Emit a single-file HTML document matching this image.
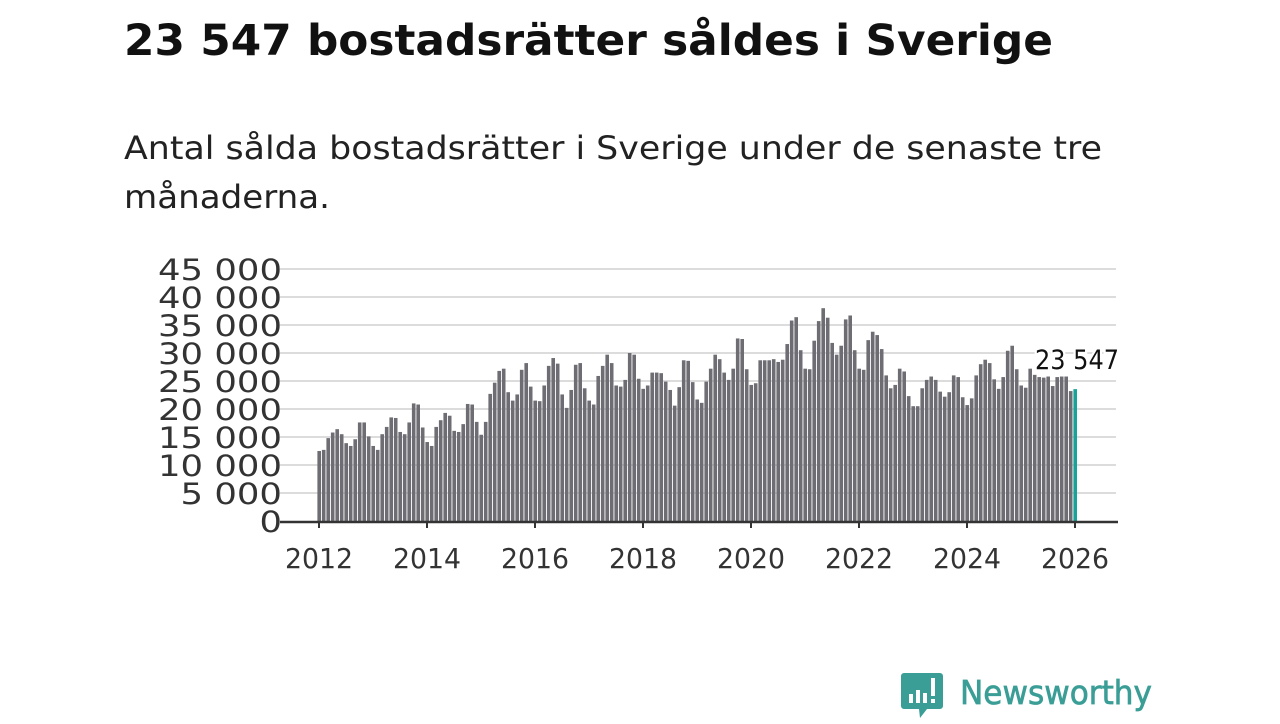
<!DOCTYPE html>
<html><head><meta charset="utf-8"><style>
body{margin:0;width:1280px;height:720px;background:#fff;overflow:hidden;font-family:"DejaVu Sans","Liberation Sans",sans-serif;}
</style></head><body>
<svg width="1280" height="720" xmlns="http://www.w3.org/2000/svg" font-family="DejaVu Sans, Liberation Sans, sans-serif">
<text x="124" y="55" font-size="43" font-weight="bold" fill="#111" textLength="929" lengthAdjust="spacingAndGlyphs">23 547 bostadsrätter såldes i Sverige</text>
<text x="124" y="159" font-size="32" fill="#222" textLength="978" lengthAdjust="spacingAndGlyphs">Antal sålda bostadsrätter i Sverige under de senaste tre</text>
<text x="124" y="208" font-size="32" fill="#222" textLength="206" lengthAdjust="spacingAndGlyphs">månaderna.</text>
<g id="grid"></g><g id="bars"></g><g id="axes"></g>
<g>
<path d="M904 673 h36 a3 3 0 0 1 3 3 v30 a3 3 0 0 1 -3 3 h-13 l-7 9 l-1 -9 h-15 a3 3 0 0 1 -3 -3 v-30 a3 3 0 0 1 3 -3z" fill="#3a9e96"/>
<rect x="909" y="694" width="4" height="9" fill="#fff"/><rect x="916" y="690" width="4" height="13" fill="#fff"/><rect x="923" y="693" width="4" height="10" fill="#fff"/><rect x="931" y="678" width="4" height="18" fill="#fff"/><rect x="931" y="699" width="4" height="4" fill="#fff"/>
<text x="960" y="704" font-size="33" fill="#3a9e96" stroke="#3a9e96" stroke-width="0.7" textLength="192" lengthAdjust="spacingAndGlyphs">Newsworthy</text>
</g>
</svg>
<script>
const yTicks=[0,5000,10000,15000,20000,25000,30000,35000,40000,45000];
const yTickLabels=["0","5 000","10 000","15 000","20 000","25 000","30 000","35 000","40 000","45 000"];
const xYears=[2012,2014,2016,2018,2020,2022,2024,2026];
const startYear=2012;
const values=[12.5,12.7,14.8,15.8,16.4,15.5,13.9,13.4,14.6,17.6,17.6,15.1,
13.4,12.7,15.5,16.8,18.5,18.4,15.9,15.5,17.6,21.0,20.8,16.7,
14.1,13.4,16.8,18.0,19.3,18.8,16.1,15.9,17.3,20.9,20.8,17.7,
15.4,17.7,22.7,24.7,26.8,27.2,23.0,21.5,22.6,27.0,28.2,
24.0,21.5,21.4,24.2,27.7,29.1,28.1,22.6,20.2,23.4,27.9,28.2,23.7,21.5,20.8,25.9,27.7,29.7,28.2,24.2,24.0,25.2,30.0,29.7,25.4,23.6,24.2,26.5,26.5,26.4,24.9,23.4,20.6,23.9,28.7,28.6,24.8,21.7,21.1,24.9,27.2,29.7,28.9,26.5,25.2,27.2,
32.6,32.5,27.1,24.3,24.6,28.7,28.7,28.7,28.9,28.4,28.8,31.6,35.8,36.4,30.5,27.2,27.1,32.2,35.7,38.0,36.3,31.8,29.7,31.3,36.0,36.7,30.5,27.2,27.0,32.3,33.8,33.2,30.7,26.0,23.7,24.3,27.2,26.7,22.3,20.5,20.5,
23.7,25.2,25.8,25.2,
23.1,22.2,23.0,26.0,25.7,22.1,20.7,21.9,26.0,28.0,28.8,28.2,25.3,23.6,25.7,30.4,31.3,27.1,24.2,23.8,27.2,26.1,25.7,25.6,25.8,24.1,25.7,25.8,25.8,23.2,23.547];
const NS='http://www.w3.org/2000/svg';
const x0=319,pxYear=54,y0=521,pxPerK=5.6;
const xs=m=>x0+m*pxYear/12, ys=v=>y0-v*pxPerK/1000;
function mk(t,a,p){const e=document.createElementNS(NS,t);for(const k in a)e.setAttribute(k,a[k]);p.appendChild(e);return e;}
function tw(s,d,sp){let w=0;for(const c of s)w+=(c===' '?sp:d);return w;}
const G=document.getElementById('grid'),B=document.getElementById('bars'),A=document.getElementById('axes');
yTicks.forEach((v,i)=>{
 if(v>0){const l=mk('line',{x1:280,x2:1116,y1:ys(v),y2:ys(v),stroke:'#dcdcdc','stroke-width':2},G);
 
 }
 const s=yTickLabels[i];
 const t=mk('text',{x:282,y:ys(v)+11,'text-anchor':'end','font-size':29,fill:'#333',textLength:tw(s,22.5,11.5),lengthAdjust:'spacingAndGlyphs'},A);t.textContent=s;
 
 
});
values.forEach((v,i)=>{
 const last=i===values.length-1;
 const r=mk('rect',{x:xs(i)-1.6,y:ys(v*1000),width:3.6,height:y0-ys(v*1000),fill:last?'#17a39a':'#6e6d73'},B);
 
 
});
const ax=mk('line',{x1:280,x2:1118,y1:y0+1,y2:y0+1,stroke:'#333','stroke-width':2.5},A);


xYears.forEach(yr=>{
 const x=xs((yr-startYear)*12);
 mk('line',{x1:x,x2:x,y1:y0,y2:y0+7,stroke:'#333','stroke-width':2},A);
 const t=mk('text',{x:x,y:568,'text-anchor':'middle','font-size':28,fill:'#333',textLength:68,lengthAdjust:'spacingAndGlyphs'},A);t.textContent=yr;
 
 
});
const lx=xs(values.length-1)+2, ly=ys(values[values.length-1]*1000)-20;
const lb=mk('text',{x:lx,y:ly,'text-anchor':'middle','font-size':27,fill:'#111',stroke:'#fff','stroke-width':5,'paint-order':'stroke',textLength:84,lengthAdjust:'spacingAndGlyphs'},A);
lb.textContent='23 547';


</script>
</body></html>
